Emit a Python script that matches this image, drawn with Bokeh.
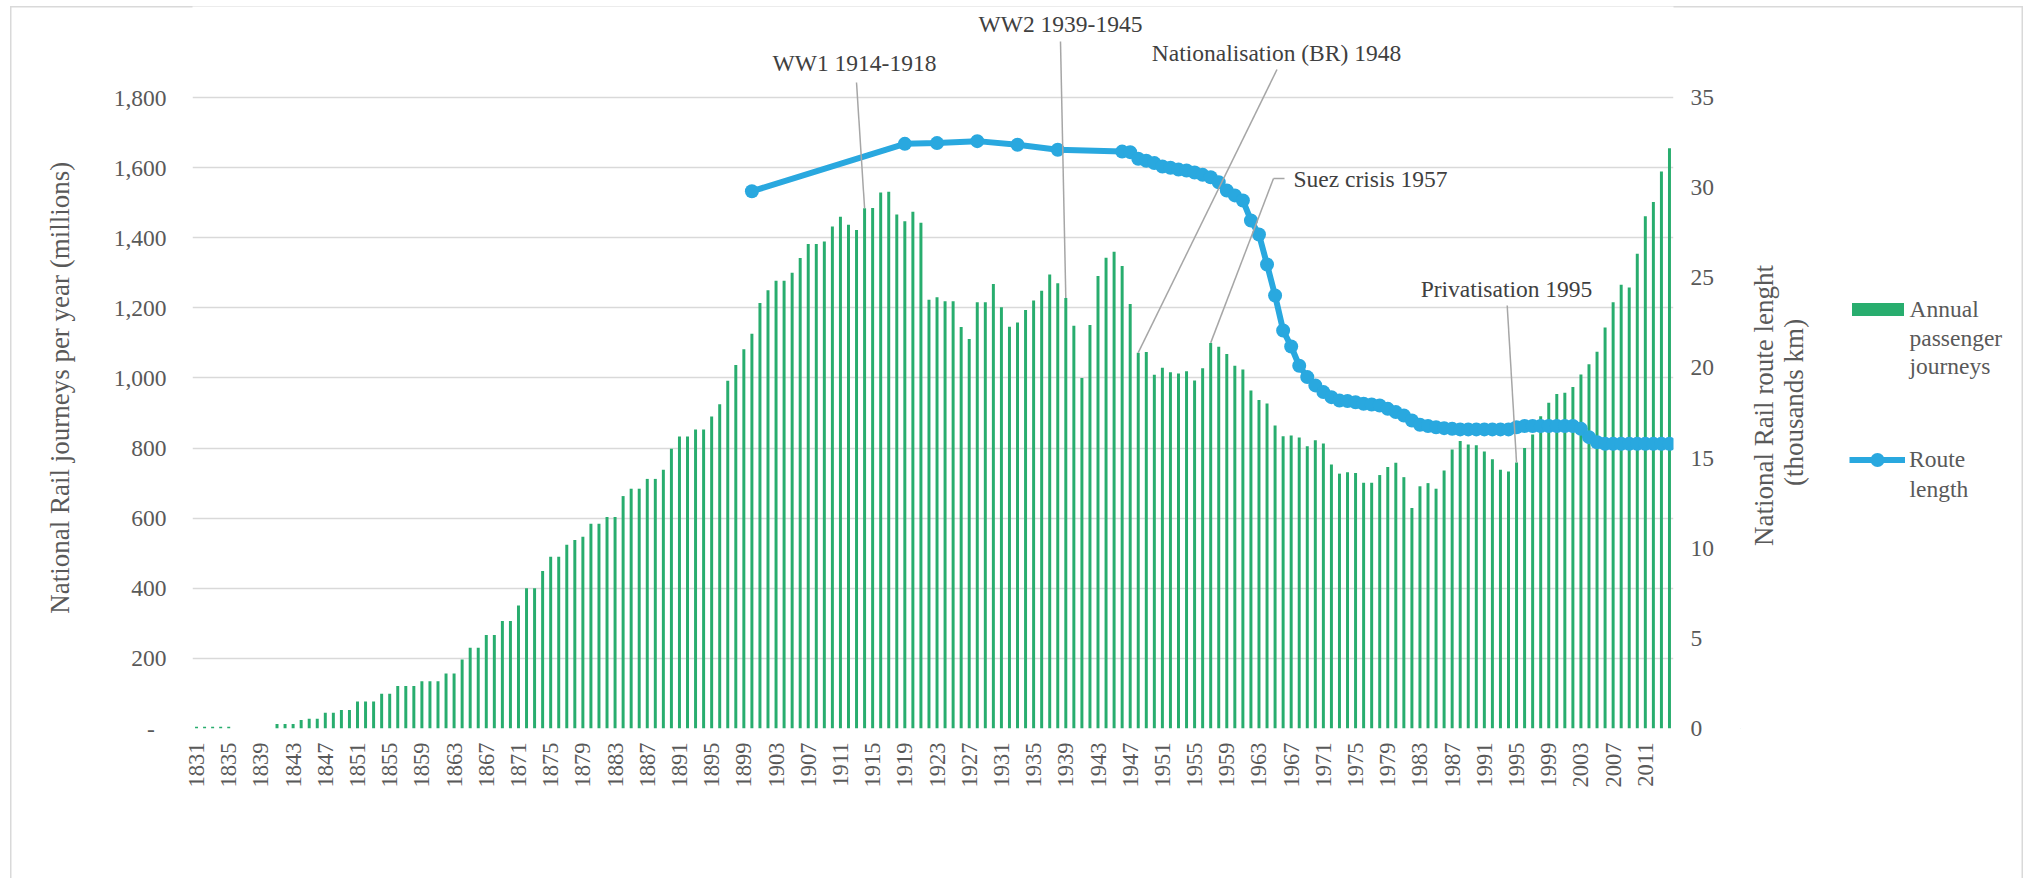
from math import pi
from bokeh.plotting import figure
from bokeh.layouts import row
from bokeh.models import (Range1d, LinearAxis, FixedTicker, NumeralTickFormatter,
                          Label, Arrow, Legend, LegendItem)
from bokeh.embed import file_html
from bokeh.resources import INLINE

# ---------------- data ----------------
years = list(range(1831, 2015))
journeys = [
    5, 5, 5, 5, 5, 0, 0, 0, 0, 0,                                   # 1831-1840
    13, 13, 13, 24, 28, 28, 45, 45, 53, 53,                          # 1841-1850
    77, 77, 77, 99, 99, 121, 121, 121, 135, 135,                     # 1851-1860
    135, 157, 157, 197, 230, 230, 267, 267, 307, 307,                # 1861-1870
    351, 400, 400, 449, 490, 490, 524, 538, 547, 584,                # 1871-1880
    584, 603, 603, 663, 684, 684, 712, 712, 738, 798,                # 1881-1890
    833, 833, 853, 853, 890, 925, 992, 1037, 1082, 1126,             # 1891-1900
    1214, 1250, 1277, 1277, 1300, 1342, 1382, 1382, 1389, 1432,      # 1901-1910
    1460, 1437, 1422, 1484, 1485, 1529, 1531, 1466, 1447, 1474,      # 1911-1920
    1443, 1223, 1230, 1219, 1219, 1145, 1111, 1216, 1216, 1268,      # 1921-1930
    1202, 1146, 1158, 1194, 1221, 1249, 1295, 1270, 1228, 1149,      # 1931-1940
    1000, 1151, 1291, 1343, 1360, 1319, 1211, 1072, 1074, 1009,      # 1941-1950
    1029, 1016, 1013, 1019, 993, 1028, 1100, 1089, 1068, 1035,       # 1951-1960
    1024, 964, 937, 927, 864, 834, 836, 830, 805, 822,               # 1961-1970
    813, 753, 727, 731, 729, 701, 701, 723, 746, 758,                # 1971-1980
    717, 629, 691, 700, 684, 736, 796, 820, 810, 808,                # 1981-1990
    790, 768, 738, 733, 759, 800, 839, 891, 929, 954,                # 1991-2000
    958, 974, 1010, 1039, 1075, 1144, 1216, 1266, 1258, 1354,        # 2001-2010
    1461, 1502, 1589, 1655,                                          # 2011-2014
]

route_years = [1900, 1919, 1923, 1928, 1933, 1938,
               1946, 1947, 1948, 1949, 1950, 1951, 1952, 1953, 1954, 1955,
               1956, 1957, 1958, 1959, 1960, 1961, 1962, 1963, 1964, 1965,
               1966, 1967, 1968, 1969, 1970, 1971, 1972, 1973, 1974, 1975,
               1976, 1977, 1978, 1979, 1980, 1981, 1982, 1983, 1984, 1985,
               1986, 1987, 1988, 1989, 1990, 1991, 1992, 1993, 1994, 1995,
               1996, 1997, 1998, 1999, 2000, 2001, 2002, 2003, 2004, 2005,
               2006, 2007, 2008, 2009, 2010, 2011, 2012, 2013, 2014]
route_km = [29.80, 32.43, 32.47, 32.58, 32.38, 32.10,
            32.00, 31.97, 31.60, 31.49, 31.36, 31.17, 31.10, 31.00, 30.95, 30.84,
            30.71, 30.58, 30.30, 29.84, 29.57, 29.29, 28.18, 27.40, 25.74, 24.02,
            22.08, 21.19, 20.12, 19.49, 19.03, 18.66, 18.38, 18.19, 18.16, 18.10,
            18.01, 17.97, 17.92, 17.73, 17.55, 17.36, 17.08, 16.85, 16.78, 16.71,
            16.66, 16.62, 16.59, 16.59, 16.59, 16.59, 16.59, 16.59, 16.59, 16.71,
            16.78, 16.78, 16.78, 16.78, 16.78, 16.78, 16.78, 16.62, 16.16, 15.88,
            15.79, 15.79, 15.79, 15.79, 15.79, 15.79, 15.79, 15.79, 15.79]

x_tick_years = list(range(1831, 2012, 4))
left_ticks = [0, 200, 400, 600, 800, 1000, 1200, 1400, 1600, 1800]
right_ticks = [0, 5, 10, 15, 20, 25, 30, 35]

events = ["WW1 1914-1918", "WW2 1939-1945", "Nationalisation (BR) 1948",
          "Suez crisis 1957", "Privatisation 1995"]
event_years = [1914, 1939, 1948, 1957, 1995]

legend_bar_lines = ["Annual", "passenger", "journeys"]
legend_line_lines = ["Route", "length"]

# ---------------- style ----------------
GREEN = "#28ad6e"
BLUE = "#29a8df"
GRID = "#d9d9d9"
TXT = "#595959"
ANN = "#404040"
LEAD = "#a6a6a6"
FONT = "Liberation Serif"

OFFX, OFFY = 10, 6             # page position of the layout (margin)
WA, WB, H = 1730, 283, 872
ML, FW = 182, 1481
MR = WA - ML - FW
FH = 722                       # frame from page y 6 to 728
MB = H - FH
X0, X1 = 1830.5, 2014.5
YPP = 1800.0 / 631             # journeys per pixel
RPP = 35.0 / 631

p = figure(width=WA, height=H, output_backend="svg", toolbar_location=None,
           x_range=Range1d(X0, X1), y_range=Range1d(0, FH * YPP),
           min_border_left=ML, min_border_right=MR, min_border_top=0,
           min_border_bottom=MB, border_fill_color=None,
           outline_line_color=None)

def X(px):
    return X0 + (px - OFFX - ML) * (X1 - X0) / FW

def Y(py):
    return (OFFY + FH - py) * YPP

p.xgrid.visible = False
p.ygrid.ticker = FixedTicker(ticks=left_ticks)
p.ygrid.grid_line_color = GRID
p.ygrid.grid_line_width = 1.5

la = p.left[0]
la.ticker = FixedTicker(ticks=left_ticks)
la.formatter = NumeralTickFormatter(format="0,0")
la.major_label_overrides = {0: "-\u00a0\u00a0"}
la.axis_label = "National Rail journeys per year (millions)" + "\u00a0" * 6
la.axis_label_text_font = FONT
la.axis_label_text_font_size = "27px"
la.axis_label_text_font_style = "normal"
la.axis_label_text_color = TXT
la.axis_label_standoff = 36

ba = p.below[0]
ba.ticker = FixedTicker(ticks=x_tick_years)
ba.major_label_orientation = pi / 2
ba.major_label_text_font_size = "22.5px"
ba.major_label_standoff = 14

p.extra_y_ranges = {"route": Range1d(0, FH * RPP)}
ra = LinearAxis(y_range_name="route", ticker=FixedTicker(ticks=right_ticks))
p.add_layout(ra, "right")

for ax in (la, ba, ra):
    ax.axis_line_color = None
    ax.major_tick_line_color = None
    ax.minor_tick_line_color = None
    ax.major_tick_out = 0
    ax.major_tick_in = 0
    ax.minor_tick_out = 0
    ax.major_label_text_font = FONT
    ax.major_label_text_color = TXT
la.major_label_text_font_size = "23.5px"
ra.major_label_text_font_size = "23.5px"
la.major_label_standoff = 26
ra.major_label_standoff = 17

bars = p.vbar(x=years, top=journeys, width=0.37, fill_color=GREEN, line_color=None)
ln = p.line(route_years, route_km, y_range_name="route", line_color=BLUE,
            line_width=6, line_join="round")
mk = p.scatter(route_years, route_km, y_range_name="route", size=14,
               fill_color=BLUE, line_color=None)

# event annotations: text centre (page px), leader start (page px)
text_pos = [(854, 62), (1060, 23), (1276, 52), (1370, 178), (1506, 288)]
lead_start = [(856, 82), (1060, 41), (1276.5, 69), (1273, 178), (1506.7, 305)]
for name, yr, (tx, ty), (sx, sy) in zip(events, event_years, text_pos, lead_start):
    p.add_layout(Label(x=X(tx), y=Y(ty), text=name, text_align="center",
                       text_baseline="middle", text_font=FONT,
                       text_font_size="23.5px", text_color=ANN))
    p.add_layout(Arrow(end=None, x_start=X(sx), y_start=Y(sy), x_end=yr,
                       y_end=journeys[yr - years[0]], line_color=LEAD,
                       line_width=1.5))
p.add_layout(Arrow(end=None, x_start=X(1273), y_start=Y(178), x_end=X(1284),
                   y_end=Y(178), line_color=LEAD, line_width=1.5))

# ---------------- side panel: right title + legend ----------------
# (its frame is aligned with the main frame: page y 6..728)
BX0 = OFFX + WA
p2 = figure(width=WB, height=H, output_backend="svg", toolbar_location=None,
            x_range=Range1d(0, WB), y_range=Range1d(0, FH),
            min_border_left=0, min_border_right=0, min_border_top=0,
            min_border_bottom=MB,
            x_axis_location=None, y_axis_location=None,
            background_fill_color=None, border_fill_color=None,
            outline_line_color=None)
p2.xgrid.visible = False
p2.ygrid.visible = False

def BXp(px):
    return px - BX0

def BYp(py):
    return OFFY + FH - py

for t, cx, cy in (("National Rail route lenght", 1763, 405),
                  ("(thousands km)", 1793, 402)):
    p2.add_layout(Label(x=BXp(cx), y=BYp(cy), text=t, angle=pi / 2,
                        text_align="center", text_baseline="middle",
                        text_font=FONT, text_font_size="27px", text_color=TXT))

# legend swatch renderers (kept outside the visible range of this panel)
sw_bar = p2.vbar(x=[-100], top=[-100], width=1, fill_color=GREEN, line_color=None)
sw_line = p2.line(x=[-100, -90], y=[-100, -100], line_color=BLUE, line_width=6)
sw_mk = p2.scatter(x=[-100], y=[-100], size=14, fill_color=BLUE, line_color=None)

common = dict(padding=0, margin=0, spacing=0, border_line_color=None,
              background_fill_alpha=0, label_text_font=FONT,
              label_text_font_size="23.5px", label_text_color=TXT,
              label_height=28)
lg1 = Legend(items=[LegendItem(label=legend_bar_lines[0], renderers=[sw_bar])],
             location=(BXp(1844.5), BYp(323)), glyph_width=65,
             glyph_height=16, label_standoff=0, **common)
lg2 = Legend(items=[LegendItem(label=legend_line_lines[0], renderers=[sw_line, sw_mk])],
             location=(BXp(1849), BYp(477)), glyph_width=56,
             glyph_height=35, label_standoff=4, **common)
p2.add_layout(lg1)
p2.add_layout(lg2)
for t, ty in ((legend_bar_lines[1], 337), (legend_bar_lines[2], 365),
              (legend_line_lines[1], 488)):
    p2.add_layout(Label(x=BXp(1909), y=BYp(ty), text=t, text_align="left",
                        text_baseline="middle", text_font=FONT,
                        text_font_size="23.5px", text_color=TXT))

lay = row(p, p2, margin=(OFFY, 0, 0, OFFX))
lay.styles = {"box-shadow": "inset 1.5px 1.5px 0 0 #d9d9d9, inset -1.5px 0 0 0 #d9d9d9"}

open("out.html", "w").write(file_html(lay, INLINE))
